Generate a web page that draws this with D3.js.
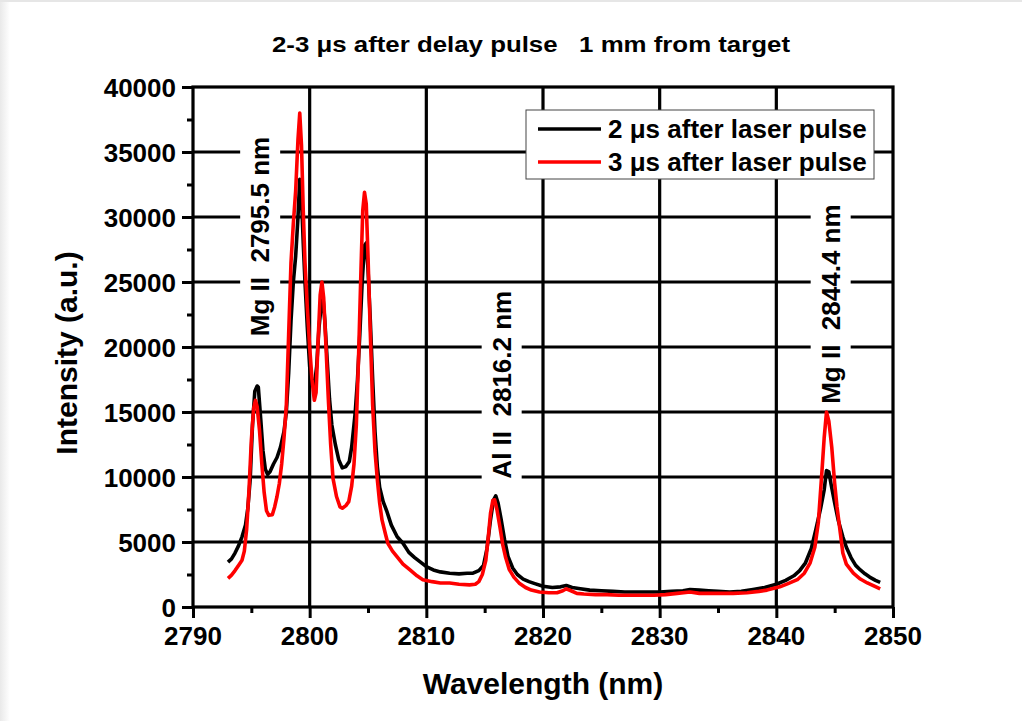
<!DOCTYPE html>
<html>
  <head>
    <meta charset="utf-8" />
    <title>Spectra 2-3 us after delay pulse</title>
    <script src="https://d3js.org/d3.v7.min.js"></script>
    <style>
      body {
        margin: 0;
        background: #fff;
      }
      svg {
        font-family: Arial, "Liberation Sans", sans-serif;
        font-weight: bold;
      }
      text {
        white-space: pre;
      }
    </style>
  </head>
  <body>
    <svg width="1022" height="721"></svg>

    <script>
      // 2 us after laser pulse (black)
      const wl2 = [
        2793.0, 2793.3, 2793.6, 2793.9, 2794.2, 2794.5, 2794.7, 2794.9, 2795.1, 2795.3,
        2795.5, 2795.6, 2795.8, 2796.0, 2796.2, 2796.4, 2796.6, 2796.9, 2797.2, 2797.5,
        2797.8, 2798.0, 2798.2, 2798.4, 2798.6, 2798.8, 2799.0, 2799.15, 2799.3, 2799.45,
        2799.6, 2799.8, 2800.0, 2800.2, 2800.4, 2800.6, 2800.8, 2801.0, 2801.15, 2801.3,
        2801.5, 2801.7, 2801.9, 2802.2, 2802.5, 2802.8, 2803.1, 2803.4, 2803.6, 2803.9,
        2804.1, 2804.3, 2804.5, 2804.7, 2804.85, 2805.0, 2805.2, 2805.4, 2805.6, 2805.8,
        2806.0, 2806.3, 2806.6, 2807.0, 2807.5, 2808.0, 2808.5, 2809.0, 2809.5, 2810.0,
        2810.6, 2811.2, 2812.0, 2812.8, 2813.5, 2814.0, 2814.5, 2814.9, 2815.2, 2815.5,
        2815.75, 2815.95, 2816.15, 2816.4, 2816.7, 2817.0, 2817.4, 2817.8, 2818.3, 2818.8,
        2819.3, 2820.0, 2820.8, 2821.5, 2822.0, 2822.5, 2823.2, 2824.0, 2825.0, 2826.0,
        2827.0, 2828.0, 2829.0, 2830.0, 2831.0, 2832.0, 2832.6, 2833.4, 2834.2, 2835.0,
        2836.0, 2837.0, 2838.0, 2839.0, 2840.0, 2840.8, 2841.5, 2842.0, 2842.5, 2843.0,
        2843.4, 2843.8, 2844.1, 2844.3, 2844.5, 2844.7, 2845.0, 2845.3, 2845.7, 2846.0,
        2846.4, 2846.8, 2847.2, 2847.6, 2848.0, 2848.5, 2848.9
      ];
      const int2 = [
        3450, 3700, 4150, 4700, 5400, 6300, 7600, 9800, 14000, 16600,
        17000, 16900, 14500, 12000, 10600, 10200, 10400, 11000, 11500, 12300,
        13500, 15000, 18000, 22000, 25000, 27000, 30000, 32900, 31500, 28000,
        25000, 21500, 18500, 17300, 17000, 18500, 21500, 23300, 23700, 22000,
        19000, 16000, 14000, 12500, 11300, 10700, 10800, 11200, 12300, 14900,
        17500, 21000, 25000, 27800, 28000, 26000, 22000, 17500, 13500, 10800,
        9200, 8100, 7400, 6300, 5400, 4900, 4200, 3800, 3450, 3100,
        2850, 2700, 2600, 2550, 2600, 2600, 2800, 3200, 4500, 6700,
        8200, 8550, 8000, 6800, 5200, 3900, 3000, 2500, 2150, 1950,
        1800, 1600, 1500, 1550, 1650, 1500, 1400, 1300, 1250, 1200,
        1150, 1150, 1150, 1150, 1200, 1250, 1350, 1300, 1250, 1200,
        1150, 1200, 1350, 1500, 1750, 2050, 2400, 2800, 3400, 4500,
        6000, 7600, 9000, 10500, 10400, 9400, 8000, 6700, 5400, 4600,
        3800, 3200, 2850, 2550, 2300, 2050, 1900
      ];

      // 3 us after laser pulse (red)
      const wl3 = [
        2793.0, 2793.3, 2793.6, 2793.9, 2794.2, 2794.4, 2794.6, 2794.8, 2795.0, 2795.2,
        2795.35, 2795.5, 2795.7, 2795.9, 2796.1, 2796.3, 2796.5, 2796.8, 2797.0, 2797.2,
        2797.4, 2797.6, 2797.8, 2798.0, 2798.2, 2798.4, 2798.6, 2798.8, 2799.0, 2799.15,
        2799.3, 2799.45, 2799.6, 2799.8, 2800.0, 2800.2, 2800.4, 2800.55, 2800.7, 2800.9,
        2801.05, 2801.2, 2801.4, 2801.6, 2801.8, 2802.0, 2802.3, 2802.6, 2802.8, 2803.1,
        2803.35, 2803.6, 2803.8, 2804.0, 2804.2, 2804.4, 2804.55, 2804.7, 2804.85, 2805.0,
        2805.2, 2805.4, 2805.6, 2805.8, 2806.0, 2806.2, 2806.5, 2806.7, 2807.1, 2807.5,
        2808.0, 2808.6, 2809.2, 2809.7, 2810.5, 2811.2, 2812.0, 2812.8, 2813.7, 2814.2,
        2814.5, 2814.8, 2815.1, 2815.3, 2815.5, 2815.7, 2815.85, 2816.05, 2816.3, 2816.55,
        2816.8, 2817.1, 2817.5, 2818.0, 2818.5, 2819.0, 2819.7, 2820.5, 2821.2, 2821.7,
        2822.0, 2822.4, 2822.9, 2823.5, 2824.5, 2825.5, 2826.5, 2827.7, 2828.5, 2829.5,
        2830.5, 2831.5, 2832.6, 2833.4, 2834.5, 2835.5, 2836.3, 2837.5, 2838.5, 2839.2,
        2840.3, 2841.0, 2841.8, 2842.4, 2842.9, 2843.3, 2843.6, 2843.9, 2844.1, 2844.3,
        2844.5, 2844.75, 2845.0, 2845.2, 2845.5, 2845.7, 2846.0, 2846.6, 2847.2, 2847.8,
        2848.4, 2848.9
      ];
      const int3 = [
        2200, 2450, 2800, 3200, 3600, 4300, 6000, 9000, 12800, 15300,
        15900, 15400, 13600, 11000, 8800, 7400, 7050, 7100, 7700, 8500,
        9500, 11000, 13000, 15500, 21000, 26500, 29500, 32000, 36000, 38000,
        35500, 30500, 26500, 23000, 20000, 17500, 15900, 16500, 20000, 24000,
        25000, 23800, 20000, 16000, 12500, 9900, 8500, 7700, 7600, 7800,
        8100, 9300, 11000, 14000, 19500, 26000, 30500, 31900, 31000, 27000,
        21000, 15500, 12000, 9800, 8000, 6700, 5600, 4900, 4300, 3850,
        3300, 2850, 2400, 2100, 1950, 1850, 1850, 1750, 1700, 1750,
        1950, 2500, 3600, 5300, 7200, 8200, 8250, 7500, 6200, 4800,
        3800, 2900, 2300, 1800, 1500, 1300, 1150, 1100, 1100, 1250,
        1400, 1250, 1050, 1000, 950, 950, 900, 900, 900, 900,
        950, 1050, 1150, 1050, 1050, 1050, 1050, 1100, 1200, 1300,
        1550, 1800, 2100, 2600, 3400, 4600, 6500, 10300, 13000, 15000,
        14300, 12300, 9500, 7700, 5600, 4150, 3300, 2600, 2150, 1850,
        1600, 1400
      ];

      const xTicks = [2790, 2800, 2810, 2820, 2830, 2840, 2850];
      const yTicks = [0, 5000, 10000, 15000, 20000, 25000, 30000, 35000, 40000];
      const seriesNames = ["2 \u03bcs after laser pulse", "3 \u03bcs after laser pulse"];
      const peakLabels = [
        { wl: 2795.5, text: "Mg II  2795.5 nm", y: 28500 },
        { wl: 2816.2, text: "Al II  2816.2 nm", y: 17100 },
        { wl: 2844.4, text: "Mg II  2844.4 nm", y: 23300 }
      ];

      const svg = d3.select("svg");

      // faint grey edges of the original page
      const defs = svg.append("defs");
      const grad = defs.append("linearGradient").attr("id", "edge");
      grad.append("stop").attr("offset", "0").attr("stop-color", "#e9e9e9");
      grad.append("stop").attr("offset", "1").attr("stop-color", "#ffffff");
      svg.append("rect").attr("width", 1022).attr("height", 721).attr("fill", "#fff");
      svg.append("rect").attr("x", 0).attr("y", 0).attr("width", 10).attr("height", 721)
        .attr("fill", "url(#edge)");
      svg.append("rect").attr("x", 0).attr("y", 0).attr("width", 1022).attr("height", 2)
        .attr("fill", "#e6e6e6");

      const x = d3.scaleLinear().domain([2790, 2850]).range([193, 893]);
      const y = d3.scaleLinear().domain([0, 40000]).range([607, 87]);

      // grid
      const grid = svg.append("g").attr("stroke", "#000").attr("stroke-width", 3.2);
      grid.selectAll(".gx").data(xTicks.slice(1, -1)).join("line")
        .attr("x1", d => x(d)).attr("x2", d => x(d))
        .attr("y1", y(0)).attr("y2", y(40000));
      grid.selectAll(".gy").data(yTicks.slice(1, -1)).join("line")
        .attr("y1", d => y(d)).attr("y2", d => y(d))
        .attr("x1", x(2790)).attr("x2", x(2850));

      // axes
      const xAxis = d3.axisBottom(x)
        .tickValues(d3.range(2790, 2851, 5))
        .tickSize(0).tickFormat("");
      const gx = svg.append("g").attr("transform", `translate(0,${y(0)})`).call(xAxis);
      gx.select(".domain").remove();
      gx.selectAll(".tick line")
        .attr("stroke", "#000").attr("stroke-width", 3)
        .attr("y2", d => (d % 10 === 0 ? 11 : 6));
      svg.append("g").selectAll("text").data(xTicks).join("text")
        .attr("x", d => x(d)).attr("y", 645)
        .attr("text-anchor", "middle").attr("font-size", 26)
        .text(d => d);

      const yAxis = d3.axisLeft(y)
        .tickValues(d3.range(0, 40001, 2500))
        .tickSize(0).tickFormat("");
      const gy = svg.append("g").attr("transform", `translate(${x(2790)},0)`).call(yAxis);
      gy.select(".domain").remove();
      gy.selectAll(".tick line")
        .attr("stroke", "#000").attr("stroke-width", 3)
        .attr("x2", d => (d % 5000 === 0 ? -11 : -6));
      svg.append("g").selectAll("text").data(yTicks).join("text")
        .attr("x", 176).attr("y", d => y(d) + 9.5)
        .attr("text-anchor", "end").attr("font-size", 26)
        .text(d => d);

      // peak labels with white backing
      const lab = svg.append("g");
      peakLabels.forEach(p => {
        const t = lab.append("text")
          .attr("transform", `translate(${x(p.wl) + 12},${y(p.y)}) rotate(-90)`)
          .attr("text-anchor", "middle")
          .attr("font-size", 26)
          .text(p.text);
        const b = t.node().getBBox();
        lab.insert("rect", "text")
          .attr("transform", `translate(${x(p.wl) + 12},${y(p.y)}) rotate(-90)`)
          .attr("x", b.x - 2).attr("y", b.y - 5)
          .attr("width", b.width + 4).attr("height", b.height + 10)
          .attr("fill", "#fff");
      });

      // spectra
      const line = d3.line().x(d => x(d[0])).y(d => y(d[1]));
      svg.append("path").datum(d3.zip(wl2, int2))
        .attr("d", line).attr("fill", "none")
        .attr("stroke", "#000").attr("stroke-width", 3.6).attr("stroke-linejoin", "round");
      svg.append("path").datum(d3.zip(wl3, int3))
        .attr("d", line).attr("fill", "none")
        .attr("stroke", "#ff0000").attr("stroke-width", 3.6).attr("stroke-linejoin", "round");

      // frame
      svg.append("rect")
        .attr("x", x(2790)).attr("y", y(40000))
        .attr("width", x(2850) - x(2790)).attr("height", y(0) - y(40000))
        .attr("fill", "none").attr("stroke", "#000").attr("stroke-width", 3.2);

      // legend
      const lg = svg.append("g");
      lg.append("rect").attr("x", 526).attr("y", 110).attr("width", 348).attr("height", 69)
        .attr("fill", "#fff").attr("stroke", "#444").attr("stroke-width", 1);
      ["#000", "#ff0000"].forEach((c, i) => {
        const ly = 129 + i * 33;
        lg.append("line").attr("x1", 538).attr("x2", 601).attr("y1", ly).attr("y2", ly)
          .attr("stroke", c).attr("stroke-width", 3.6);
        lg.append("text").attr("x", 608).attr("y", ly + 9).attr("font-size", 26)
          .text(seriesNames[i]);
      });

      // titles
      svg.append("text").attr("x", 531).attr("y", 52)
        .attr("text-anchor", "middle").attr("font-size", 22)
        .attr("textLength", 518).attr("lengthAdjust", "spacingAndGlyphs")
        .text("2-3 \u03bcs after delay pulse   1 mm from target");
      svg.append("text").attr("x", 543).attr("y", 694)
        .attr("text-anchor", "middle").attr("font-size", 30)
        .text("Wavelength (nm)");
      svg.append("text")
        .attr("transform", "translate(77,353) rotate(-90)")
        .attr("text-anchor", "middle").attr("font-size", 30)
        .text("Intensity (a.u.)");
    </script>
  </body>
</html>
